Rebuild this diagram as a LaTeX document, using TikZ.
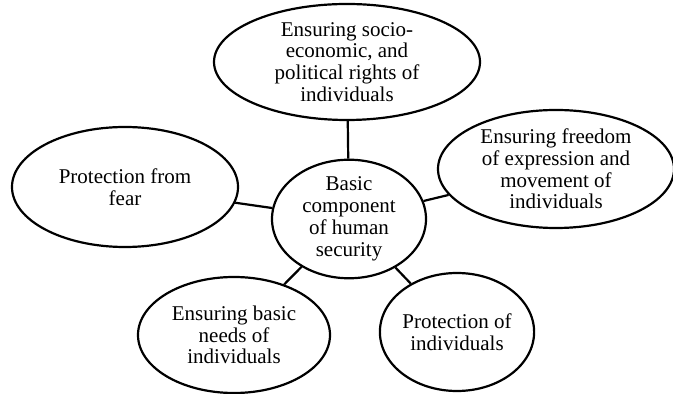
\documentclass[tikz,border=0pt]{standalone}
\usepackage{fontspec}
\setmainfont{Liberation Serif}
\usetikzlibrary{shapes.geometric}
\tikzset{
  bubble/.style={draw, ellipse, line width=1.1pt, inner sep=0pt, align=center,
    font=\fontsize{10.5}{10.9}\selectfont},
  link/.style={line width=1.1pt}
}
\begin{document}
\begin{tikzpicture}[x=0.5pt,y=-0.5pt]
\useasboundingbox (0,0) rectangle (673,394);
\node[bubble, minimum width=133pt, minimum height=58pt] (rights) at (347,62) {Ensuring socio-\\economic, and\\political rights of\\individuals};
\node[bubble, minimum width=77pt, minimum height=59pt] (core) at (349,219) {Basic\\component\\of human\\security};
\node[bubble, minimum width=113pt, minimum height=60pt] (fear) at (125,187) {Protection from\\fear};
\node[bubble, minimum width=118pt, minimum height=59pt] (freedom) at (556,169) {Ensuring freedom\\of expression and\\movement of\\individuals};
\node[bubble, minimum width=96pt, minimum height=58pt] (needs) at (234,335) {Ensuring basic\\needs of\\individuals};
\node[bubble, minimum width=75pt, minimum height=59pt] (persons) at (457,332) {Protection of\\individuals};
\draw[link] (rights)--(core);
\draw[link] (fear)--(core);
\draw[link] (freedom)--(core);
\draw[link] (needs)--(core);
\draw[link] (persons)--(core);
\end{tikzpicture}
\end{document}
